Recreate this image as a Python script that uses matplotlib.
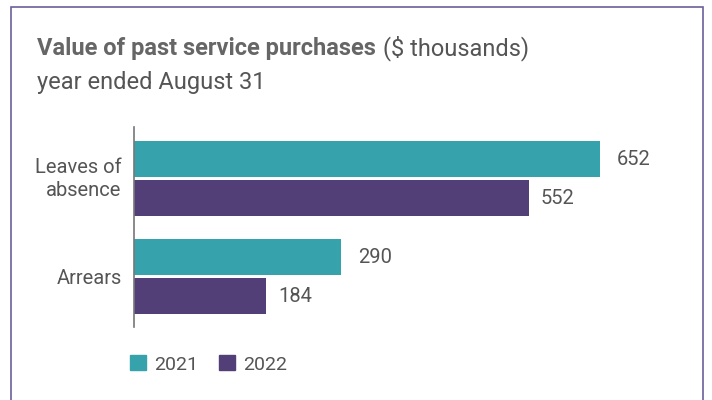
import matplotlib.pyplot as plt
import matplotlib.transforms as mtransforms
from matplotlib.patches import Rectangle, Patch
import numpy as np

plt.rcParams['font.family'] = ['Roboto', 'DejaVu Sans']

categories = ['Leaves of\nabsence', 'Arrears']
years = ['2021', '2022']
values_2021 = [652, 290]
values_2022 = [552, 184]

teal = '#36a2ab'
purple = '#523f77'
text_col = '#555555'

fig = plt.figure(figsize=(7.12, 4.0), dpi=100)
ax = fig.add_axes([134 / 712, 1 - 327 / 400, (690 - 134) / 712, 200 / 400])

y = np.arange(len(categories))
h = 36 / 98
off = 19.5 / 98
b1 = ax.barh(y - off, values_2021, height=h, color=teal)
b2 = ax.barh(y + off, values_2022, height=h, color=purple)
ax.bar_label(b1, padding=12, fontsize=14.5, color=text_col)
ax.bar_label(b2, padding=9, fontsize=14.5, color=text_col)

ax.set_xlim(0, (690 - 134) / 0.7147)
ax.set_ylim(1.515, -0.526)
ax.set_yticks(y)
ax.set_yticklabels(categories, fontsize=14.5, color=text_col, linespacing=1.3)
ax.tick_params(axis='y', length=0, pad=9)
ax.set_xticks([])
for s in ['top', 'right', 'bottom']:
    ax.spines[s].set_visible(False)
ax.spines['left'].set_color('#777777')
ax.spines['left'].set_linewidth(1.2)

# nudge the two-line label up a little
lab = ax.get_yticklabels()[0]
lab.set_transform(lab.get_transform() +
                  mtransforms.ScaledTranslation(0, 4 / 100, fig.dpi_scale_trans))

# title: bold part followed by regular units
t1 = fig.text(37 / 712, 1 - 55 / 400, 'Value of past service purchases', fontsize=17,
              fontweight='bold', color='#666666', va='baseline')
fig.canvas.draw()
bb = t1.get_window_extent()
fig.text((bb.x1 + 7) / 712, 1 - 55 / 400, '($ thousands)', fontsize=17,
         color='#555555', va='baseline')
fig.text(37 / 712, 1 - 89 / 400, 'year ended August 31', fontsize=17,
         color='#555555', va='baseline')

handles = [Patch(color=teal), Patch(color=purple)]
fig.legend(handles, years, loc='center left', bbox_to_anchor=(130 / 712, 1 - 364.5 / 400),
           ncol=2, frameon=False, fontsize=14, handlelength=0.82, handleheight=0.82,
           handletextpad=0.4, columnspacing=1.1, borderpad=0, borderaxespad=0,
           labelcolor=text_col)

# frame around the panel, open at the bottom edge
fig.patches.append(Rectangle((10.5 / 712, -0.1), 692 / 712, 1.1 - 7 / 400,
                             transform=fig.transFigure, fill=False,
                             edgecolor='#6b5f9b', linewidth=1.2))

fig.savefig('out.png', dpi=100)
